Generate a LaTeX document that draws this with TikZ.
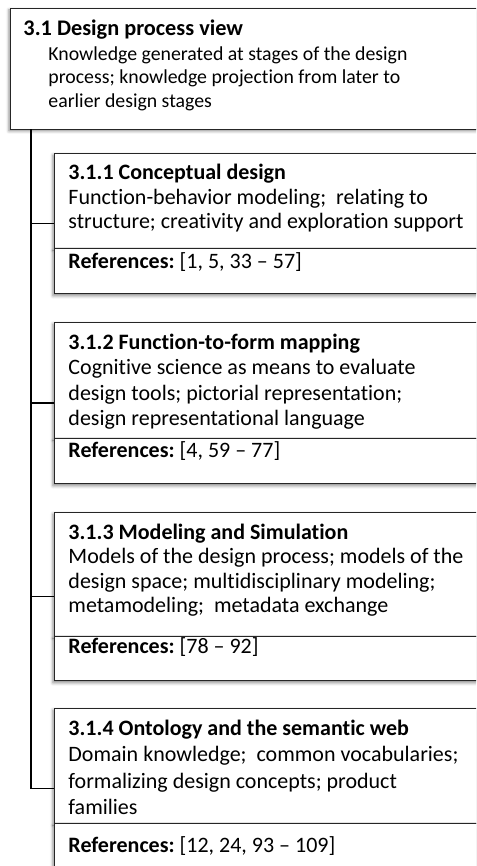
\documentclass[tikz,border=0pt]{standalone}
\usepackage{fontspec}
\setmainfont{Carlito}[Ligatures={NoCommon}]
\usetikzlibrary{shadows.blur,calc}

\newcommand{\ind}{\hspace*{25pt}}

\begin{document}
\frenchspacing
\begin{tikzpicture}[x=1pt,y=-1pt,
    box/.style={draw=black!85, line width=0.9pt, fill=white, inner xsep=14pt, inner ysep=0pt,
      align=flush left, text width=408pt, font=\fontsize{22}{24.5}\selectfont\frenchspacing,
      blur shadow={shadow xshift=-1.5pt, shadow yshift=-2pt, shadow blur radius=3pt, shadow opacity=45}},
    tree/.style={line width=1.4pt}]
    \useasboundingbox (0,0) rectangle (476,866);
    \clip (0,0) rectangle (476,866);

    % 3.1 top box
    \node[box, inner xsep=13pt, text width=454pt, text height=28pt, text depth=93pt, anchor=base west,
      font=\fontsize{19.8}{23.5}\selectfont\frenchspacing]
      (b0) at (10,36) {\textbf{\fontsize{22.3}{23.5}\selectfont 3.1 Design process view}\\[1pt]
      \ind Knowledge generated at stages of the design\\
      \ind process; knowledge projection from later to\\
      \ind earlier design stages};

    % 3.1.1
    \node[box, text height=27pt, text depth=68pt, anchor=base west] (b1) at (54,180)
      {\textbf{3.1.1 Conceptual design}\\
      Function-behavior modeling;\ \ relating to\\
      structure; creativity and exploration support};
    \node[box, text height=20pt, text depth=25pt, anchor=north west] (r1) at (b1.south west)
      {\textbf{References:} [1, 5, 33 – 57]};

    % 3.1.2
    \node[box, text height=27pt, text depth=89pt, anchor=base west,
      font=\fontsize{22}{25.5}\selectfont\frenchspacing] (b2) at (54,349)
      {\textbf{3.1.2 Function-to-form mapping}\\
      Cognitive science as means to evaluate\\
      design tools; pictorial representation;\\
      design representational language};
    \node[box, text height=19pt, text depth=26pt, anchor=north west] (r2) at (b2.south west)
      {\textbf{References:} [4, 59 – 77]};

    % 3.1.3
    \node[box, text height=27pt, text depth=97pt, anchor=base west] (b3) at (54,539)
      {\textbf{3.1.3 Modeling and Simulation}\\
      Models of the design process; models of the\\
      design space; multidisciplinary modeling;\\
      metamodeling;\ \ metadata exchange};
    \node[box, text height=17pt, text depth=27pt, anchor=north west] (r3) at (b3.south west)
      {\textbf{References:} [78 – 92]};

    % 3.1.4
    \node[box, text height=27pt, text depth=88pt, anchor=base west,
      font=\fontsize{22}{26.5}\selectfont\frenchspacing] (b4) at (54,735)
      {\textbf{3.1.4 Ontology and the semantic web}\\
      Domain knowledge;\ \ common vocabularies;\\
      formalizing design concepts; product\\
      families};
    \node[box, text height=29pt, text depth=16pt, anchor=north west] (r4) at (b4.south west)
      {\textbf{References:} [12, 24, 93 – 109]};

    % tree lines
    \coordinate (trunk) at ([xshift=21pt]b0.south west);
    \foreach \i in {1,...,4}
      \coordinate (m\i) at ($(b\i.north west)!0.5!(r\i.south west)$);
    \draw[tree] (trunk) |- (m4);
    \foreach \i in {1,2,3}
      \draw[tree] (trunk |- m\i) -- (m\i);
\end{tikzpicture}
\end{document}
